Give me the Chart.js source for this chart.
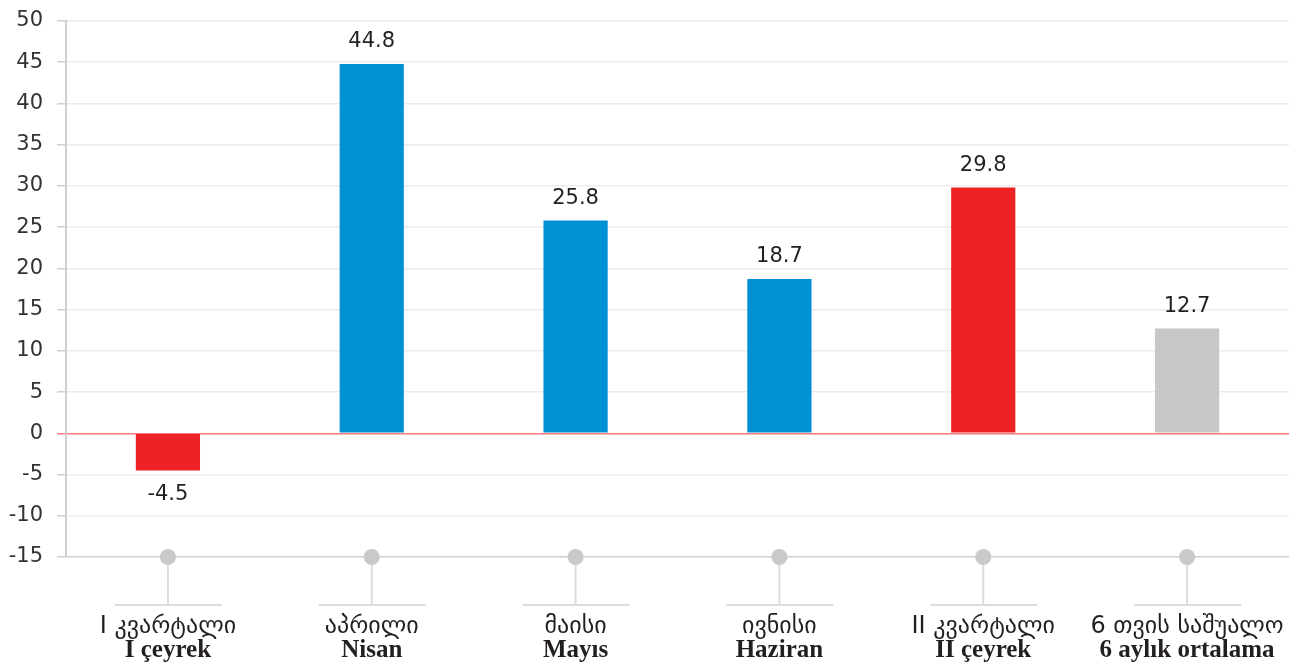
<!DOCTYPE html>
<html>
<head>
<meta charset="utf-8">
<script src="https://cdn.jsdelivr.net/npm/chart.js@4.4.1/dist/chart.umd.min.js"></script>
<style>
  html, body { margin: 0; padding: 0; background: #ffffff; }
  #wrap { width: 1298px; height: 664px; position: relative; }
</style>
</head>
<body>
<div id="wrap"><canvas id="c" width="1298" height="664"></canvas></div>
<script>
// ---- Data ----
const labelsKa = ["I კვარტალი", "აპრილი", "მაისი", "ივნისი", "II კვარტალი", "6 თვის საშუალო"];
const labelsTr = ["I çeyrek", "Nisan", "Mayıs", "Haziran", "II çeyrek", "6 aylık ortalama"];
const values = [-4.5, 44.8, 25.8, 18.7, 29.8, 12.7];
const valueLabels = ["-4.5", "44.8", "25.8", "18.7", "29.8", "12.7"];
const yMin = -15;
const yMax = 50;
const yStep = 5;

// ---- Styles ----
const RED = "#ED2224", BLUE = "#0091D5", GREY = "#C6C7C9";
const barColors = [RED, BLUE, BLUE, BLUE, RED, GREY];
const textColor = "#231f20";

const decorPlugin = {
  id: "decor",
  afterDatasetsDraw(chart) {
    const ctx = chart.ctx;
    const xs = chart.scales.x, ys = chart.scales.y;
    const meta = chart.getDatasetMeta(0);
    const baseY = ys.getPixelForValue(yMin);
    ctx.save();
    // value labels
    ctx.fillStyle = textColor;
    ctx.font = '21px "DejaVu Sans"';
    ctx.textAlign = "center";
    meta.data.forEach((bar, i) => {
      const v = values[i];
      if (v >= 0) {
        ctx.textBaseline = "bottom";
        ctx.fillText(valueLabels[i], bar.x, bar.y - 12);
      } else {
        ctx.textBaseline = "top";
        ctx.fillText(valueLabels[i], bar.x, bar.y + 14);
      }
    });
    // stems, dots and category labels
    labelsKa.forEach((lab, i) => {
      const x = xs.getPixelForValue(i);
      ctx.strokeStyle = "#dcdcdc";
      ctx.lineWidth = 2;
      ctx.beginPath();
      ctx.moveTo(x, baseY);
      ctx.lineTo(x, baseY + 48);
      ctx.stroke();
      ctx.beginPath();
      ctx.moveTo(x - 53, baseY + 48);
      ctx.lineTo(x + 54, baseY + 48);
      ctx.stroke();
      ctx.fillStyle = "#c8c9cb";
      ctx.beginPath();
      ctx.arc(x, baseY, 8, 0, Math.PI * 2);
      ctx.fill();
      ctx.fillStyle = textColor;
      ctx.textAlign = "center";
      ctx.textBaseline = "alphabetic";
      ctx.font = '24px "DejaVu Sans"';
      ctx.fillText(lab, x, baseY + 76);
      ctx.font = 'bold 25px "Liberation Serif"';
      ctx.fillText(labelsTr[i], x, baseY + 100);
    });
    ctx.restore();
  }
};

new Chart(document.getElementById("c"), {
  type: "bar",
  data: {
    labels: labelsTr,
    datasets: [{
      data: values,
      backgroundColor: barColors,
      borderWidth: 0,
      categoryPercentage: 1.0,
      barPercentage: 0.315
    }]
  },
  options: {
    responsive: false,
    animation: false,
    devicePixelRatio: 1,
    layout: { padding: { top: 21, right: 9, bottom: 107, left: 0 } },
    plugins: { legend: { display: false }, tooltip: { enabled: false } },
    scales: {
      x: { display: false },
      y: {
        min: yMin,
        max: yMax,
        afterFit(scale) { scale.width = 66; scale.paddingTop = 0; scale.paddingBottom = 0; },
        ticks: {
          stepSize: yStep,
          color: "#333",
          font: { family: '"DejaVu Sans"', size: 21 },
          padding: 14
        },
        border: { display: true, color: "#cfcfcf", width: 2 },
        grid: {
          tickLength: 9,
          lineWidth: 1.5,
          color: (c) => {
            if (!c.tick) return "#ececec";
            if (c.tick.value === 0) return "rgba(237,34,36,0.6)";
            if (c.tick.value === yMin) return "#cfcfcf";
            return "#ececec";
          },
          tickColor: (c) => (c.tick && c.tick.value === 0) ? "rgba(237,34,36,0.6)" : "#cfcfcf"
        }
      }
    }
  },
  plugins: [decorPlugin]
});
</script>
</body>
</html>
